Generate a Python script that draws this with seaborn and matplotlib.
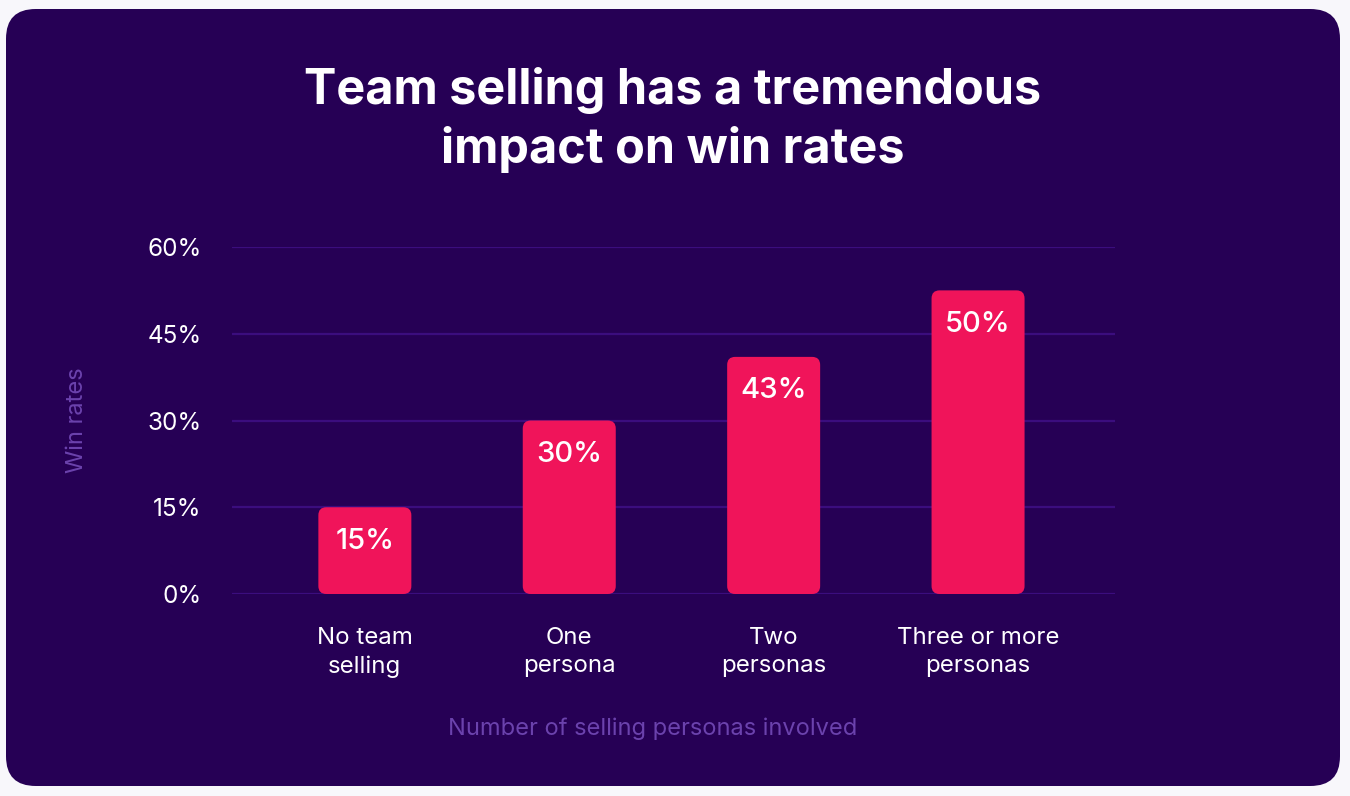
import matplotlib
matplotlib.use("Agg")
import matplotlib.pyplot as plt
from matplotlib.patches import FancyBboxPatch
import seaborn as sns
import pandas as pd

categories = ["No team\nselling", "One\npersona", "Two\npersonas", "Three or more\npersonas"]
bar_heights = [15, 30, 41, 52.5]
bar_labels = ["15%", "30%", "43%", "50%"]
y_ticks = [0, 15, 30, 45, 60]
y_tick_labels = ["0%", "15%", "30%", "45%", "60%"]
title = "Team selling has a tremendous\nimpact on win rates"
x_title = "Number of selling personas involved"
y_title = "Win rates"

CARD = "#260055"
BAR = "#F0145A"
GRID = "#3B0D7E"
MUTED = "#6B42AD"
OUTER = "#F8F7FB"

sns.set_theme(style="white")
plt.rcParams["font.family"] = ["Inter", "DejaVu Sans"]

W, H = 1350, 796
fig = plt.figure(figsize=(W / 100, H / 100), dpi=100, facecolor=OUTER)

card = FancyBboxPatch((6 / W, 1 - 786 / H), (1340 - 6) / W, (786 - 9) / H,
                      boxstyle="round,pad=0,rounding_size=0.022",
                      mutation_aspect=W / H,
                      transform=fig.transFigure, facecolor=CARD, edgecolor="none", zorder=-10)
fig.patches.append(card)

ax_l, ax_r = 232 / W, 1115 / W
ax_b, ax_t = 1 - 594 / H, 1 - 247 / H
ax = fig.add_axes([ax_l, ax_b, ax_r - ax_l, ax_t - ax_b])
ax.set_facecolor("none")
ax.set_zorder(5)

df = pd.DataFrame({"cat": categories, "val": bar_heights})
sns.barplot(data=df, x="cat", y="val", color=BAR, width=0.455, ax=ax, zorder=3)

ax.set_xlim(-0.65, 3.67)
ax.set_ylim(0, 60)

# replace bars with rounded versions
x_px_per_unit = (ax_r - ax_l) * W / (3.67 + 0.65)
y_px_per_unit = (ax_t - ax_b) * H / 60
r_px = 8
for p, lab in zip(list(ax.patches), bar_labels):
    x0, y0, w, h = p.get_x(), p.get_y(), p.get_width(), p.get_height()
    p.set_visible(False)
    rb = FancyBboxPatch((x0, y0), w, h,
                        boxstyle=f"round,pad=0,rounding_size={r_px / x_px_per_unit}",
                        mutation_aspect=x_px_per_unit / y_px_per_unit,
                        facecolor=BAR, edgecolor="none", zorder=3)
    ax.add_patch(rb)
    ax.text(x0 + w / 2, y0 + h - 34 / y_px_per_unit, lab, ha="center", va="center",
            color="white", fontsize=21, fontweight="medium", zorder=4)

ax.set_yticks(y_ticks)
ax.set_yticklabels(y_tick_labels)
ax.set_axisbelow(True)
ax.yaxis.grid(True, color=GRID, linewidth=1.6, zorder=0)
ax.xaxis.grid(False)
for s in ax.spines.values():
    s.set_visible(False)
ax.tick_params(axis="y", length=0, pad=22, labelsize=17.5, labelcolor="white")
ax.tick_params(axis="x", length=0, pad=23.5, labelsize=17.3, labelcolor="white")
for t in ax.get_xticklabels():
    t.set_linespacing(1.4)
ax.set_xlabel("")
ax.set_ylabel("")

fig.text(673 / W, 1 - 120 / H, title, ha="center", va="center", color="white",
         fontsize=35, fontweight="bold", linespacing=1.33)
fig.text(653 / W, 1 - 729 / H, x_title, ha="center", va="center", color=MUTED, fontsize=17)
fig.text(77 / W, 1 - 420 / H, y_title, ha="center", va="center", color=MUTED,
         fontsize=17, rotation=90)

fig.savefig("out.png", dpi=100, facecolor=OUTER)
